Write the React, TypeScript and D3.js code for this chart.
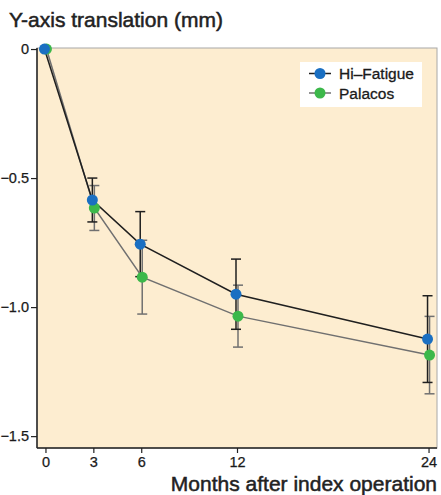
import React, { useEffect, useRef } from 'react';
import * as d3 from 'd3';

const months = [0, 3, 6, 12, 24];
const hiFatigueMean = [0, -0.585, -0.756, -0.95, -1.124];
const hiFatigueErr = [0, 0.085, 0.126, 0.136, 0.168];
const palacosMean = [0, -0.616, -0.884, -1.035, -1.186];
const palacosErr = [0, 0.087, 0.143, 0.12, 0.15];
const yTicks = [0, -0.5, -1.0, -1.5];
const seriesNames = ['Hi\u2013Fatigue', 'Palacos'];

const App = () => {
  const ref = useRef<SVGSVGElement | null>(null);

  useEffect(() => {
    const svg = d3.select(ref.current);
    svg.selectAll('*').remove();

    const font = 'Liberation Sans, Arial, Helvetica, sans-serif';
    const left = 37;
    const top = 48;
    const right = 437;
    const bottom = 448;

    const x = d3.scaleLinear().domain([-0.53, 24.53]).range([left, right]);
    const y = d3.scaleLinear().domain([0.004, -1.546]).range([top, bottom]);

    // plot background
    svg
      .append('rect')
      .attr('x', left)
      .attr('y', top)
      .attr('width', right - left)
      .attr('height', bottom - top)
      .attr('fill', '#fdedd0')
      .attr('stroke', '#a8a8a8')
      .attr('stroke-width', 1);

    // axes
    const yAxis = svg
      .append('g')
      .attr('transform', `translate(${left},0)`)
      .call(
        d3
          .axisLeft(y)
          .tickValues(yTicks)
          .tickSize(6)
          .tickPadding(2)
          .tickFormat((d) => (d === 0 ? '0' : d3.format('.1f')(d as number).replace('-', '\u2013')))
      );
    yAxis.select('.domain').attr('d', `M0,${top}V${bottom}`).attr('stroke', '#222').attr('stroke-width', 1.5);
    yAxis.selectAll('.tick line').attr('stroke', '#222').attr('stroke-width', 1.2);
    yAxis.selectAll('text').attr('font-family', font).attr('font-size', 14.5).attr('fill', '#1a1a1a')
      .attr('stroke', '#1a1a1a').attr('stroke-width', 0.25);

    const xAxis = svg
      .append('g')
      .attr('transform', `translate(0,${bottom})`)
      .call(d3.axisBottom(x).tickValues(months).tickSize(5).tickPadding(4).tickFormat(d3.format('d')));
    xAxis.select('.domain').attr('d', `M${left},0H${right}`).attr('stroke', '#222').attr('stroke-width', 1.5);
    xAxis.selectAll('.tick line').attr('stroke', '#222').attr('stroke-width', 1.2);
    xAxis.selectAll('text').attr('font-family', font).attr('font-size', 14.5).attr('fill', '#1a1a1a')
      .attr('stroke', '#1a1a1a').attr('stroke-width', 0.25);

    // titles
    svg
      .append('text')
      .attr('x', 9)
      .attr('y', 27)
      .attr('font-family', font)
      .attr('font-size', 21)
      .attr('fill', '#222')
      .attr('stroke', '#222')
      .attr('stroke-width', 0.5)
      .text('Y-axis translation (mm)');

    svg
      .append('text')
      .attr('x', 437)
      .attr('y', 491)
      .attr('text-anchor', 'end')
      .attr('font-family', font)
      .attr('font-size', 21)
      .attr('fill', '#222')
      .attr('stroke', '#222')
      .attr('stroke-width', 0.5)
      .text('Months after index operation');

    const series = [
      { name: seriesNames[1], mean: palacosMean, err: palacosErr, line: '#707070', dot: '#3cb84a', dx: 1 },
      { name: seriesNames[0], mean: hiFatigueMean, err: hiFatigueErr, line: '#1f1f1f', dot: '#1a6fc2', dx: -1 },
    ];

    // error bars
    series.forEach((s) => {
      const g = svg.append('g');
      months.forEach((m, i) => {
        if (s.err[i] === 0) return;
        const cx = x(m) + s.dx;
        const y1 = y(s.mean[i] + s.err[i]);
        const y2 = y(s.mean[i] - s.err[i]);
        g.append('line').attr('x1', cx).attr('x2', cx).attr('y1', y1).attr('y2', y2)
          .attr('stroke', s.line).attr('stroke-width', 1.5);
        [y1, y2].forEach((yy) => {
          g.append('line').attr('x1', cx - 5).attr('x2', cx + 5).attr('y1', yy).attr('y2', yy)
            .attr('stroke', s.line).attr('stroke-width', 1.5);
        });
      });
    });

    // lines and dots
    series.forEach((s) => {
      const line = d3
        .line<number>()
        .x((_, i) => x(months[i]) + s.dx)
        .y((d) => y(d));
      svg.append('path').attr('d', line(s.mean)).attr('fill', 'none').attr('stroke', s.line).attr('stroke-width', 1.5);
    });
    series.forEach((s) => {
      svg
        .append('g')
        .selectAll('circle')
        .data(s.mean)
        .join('circle')
        .attr('cx', (_, i) => x(months[i]) + s.dx)
        .attr('cy', (d) => y(d))
        .attr('r', 5.5)
        .attr('fill', s.dot);
    });

    // legend
    const lg = svg.append('g').attr('transform', 'translate(300,62)');
    lg.append('rect').attr('width', 122).attr('height', 45).attr('fill', '#fff');
    [series[1], series[0]].forEach((s, i) => {
      const yy = 11.5 + i * 19.5;
      lg.append('line').attr('x1', 9).attr('x2', 31).attr('y1', yy).attr('y2', yy)
        .attr('stroke', s.line).attr('stroke-width', 1.5);
      lg.append('circle').attr('cx', 20).attr('cy', yy).attr('r', 5.5).attr('fill', s.dot);
      lg.append('text').attr('x', 39).attr('y', yy + 5.5).attr('font-family', font).attr('font-size', 15.5)
        .attr('fill', '#1a1a1a').attr('stroke', '#1a1a1a').attr('stroke-width', 0.3).text(s.name);
    });
  }, []);

  return <svg ref={ref} width={441} height={495} style={{ display: 'block', position: 'absolute', left: 0, top: 0 }} />;
};

export default App;
